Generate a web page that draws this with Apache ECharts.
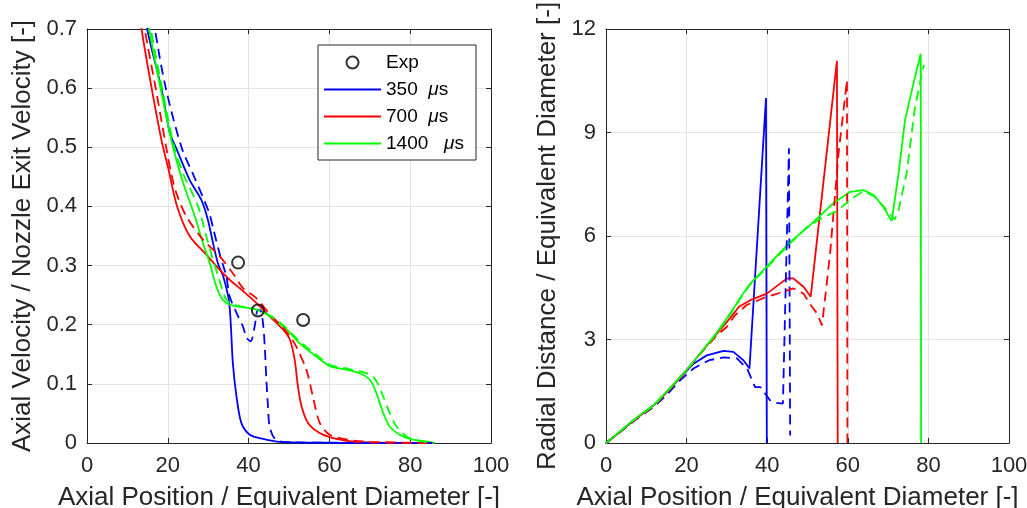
<!DOCTYPE html>
<html>
<head>
<meta charset="utf-8">
<script src="https://cdn.jsdelivr.net/npm/echarts@6/dist/echarts.min.js"></script>
<style>
html,body{margin:0;padding:0;background:#fff;}
#chart{width:1027px;height:508px;}
</style>
</head>
<body>
<div id="chart"></div>
<script>
// ---------- tick labels ----------
const xTickLabels = ['0', '20', '40', '60', '80', '100'];
const leftYTickLabels = ['0', '0.1', '0.2', '0.3', '0.4', '0.5', '0.6', '0.7'];
const rightYTickLabels = ['0', '3', '6', '9', '12'];

// ---------- legend names ----------
const legendNames = ['Exp', '350', '700', '1400'];

// ---------- left panel: axial velocity ----------
const expPoints = [[37.4, 0.305], [42.3, 0.224], [53.5, 0.208]];

const velBlueSolid = [[12.8, 0.80], [14.9, 0.70], [18.4, 0.60], [20.5, 0.524], [22.0, 0.50], [25.4, 0.445], [28.3, 0.411],
  [29.9, 0.378], [31.2, 0.338], [32.4, 0.304], [33.7, 0.282], [35.1, 0.242], [35.6, 0.20], [36.1, 0.135],
  [37.0, 0.079], [38.2, 0.034], [40.3, 0.014], [43.6, 0.007], [47.7, 0.002], [60, 0.0005], [86, 0]];
const velBlueDashed = [[14.6, 0.80], [16.8, 0.70], [19.5, 0.60], [23.4, 0.50], [26.4, 0.452], [30.2, 0.39], [31.4, 0.358],
  [32.8, 0.321], [33.7, 0.30], [34.5, 0.282], [35.3, 0.248], [37.0, 0.22], [38.6, 0.197], [39.5, 0.178],
  [40.5, 0.172], [41.5, 0.197], [42.3, 0.225], [43.0, 0.224], [43.6, 0.20], [44.0, 0.163], [44.4, 0.107],
  [44.8, 0.062], [45.2, 0.028], [46.5, 0.007], [48.5, 0.002], [60, 0.0005], [86, 0]];
const velRedSolid = [[11.5, 0.80], [13.5, 0.70], [16.0, 0.60], [18.5, 0.51], [20.2, 0.462], [22.3, 0.40], [25.4, 0.35],
  [29.6, 0.318], [32.8, 0.293], [35.3, 0.276], [38.6, 0.257], [41.9, 0.237], [45.2, 0.214], [48.5, 0.192],
  [50.2, 0.175], [51.4, 0.141], [52.2, 0.096], [53.1, 0.062], [54.7, 0.034], [57.6, 0.017], [61.7, 0.007],
  [66.7, 0.002], [86, 0]];
const velRedDashed = [[12.3, 0.80], [14.3, 0.70], [17.0, 0.60], [19.6, 0.50], [20.9, 0.454], [22.1, 0.423], [24.6, 0.383],
  [28.7, 0.344], [32.8, 0.316], [36.1, 0.287], [38.6, 0.262], [41.9, 0.245], [45.2, 0.218], [48.5, 0.195],
  [50.5, 0.178], [51.8, 0.163], [54.3, 0.124], [55.9, 0.079], [57.6, 0.034], [60.1, 0.014], [65.1, 0.005],
  [70, 0.002], [86, 0]];
const velGreenSolid = [[13.2, 0.80], [15.4, 0.70], [18.2, 0.60], [21.3, 0.50], [23.8, 0.44], [26.7, 0.383], [28.7, 0.338],
  [30.4, 0.304], [32.0, 0.265], [33.5, 0.243], [35.0, 0.235], [37.8, 0.230], [40.3, 0.228], [42.7, 0.224],
  [46.0, 0.211], [49.4, 0.192], [52.6, 0.169], [56.8, 0.146], [60.1, 0.130], [64.2, 0.124], [67.5, 0.118],
  [70.0, 0.107], [71.6, 0.085], [73.3, 0.051], [74.9, 0.028], [77.4, 0.014], [79.9, 0.007], [84.8, 0.002], [86, 0]];
const velGreenDashed = [[13.6, 0.80], [15.8, 0.70], [18.6, 0.60], [21.6, 0.50], [23.9, 0.454], [27.5, 0.40], [29.5, 0.35],
  [31.2, 0.31], [32.8, 0.275], [34.3, 0.245], [35.8, 0.235], [38.0, 0.231], [40.5, 0.228], [43.0, 0.223],
  [46.0, 0.212], [49.4, 0.194], [52.6, 0.172], [56.8, 0.149], [60.1, 0.132], [64.2, 0.126], [67.5, 0.121],
  [70.8, 0.113], [73.3, 0.079], [74.9, 0.051], [76.6, 0.028], [79.1, 0.011], [82, 0.004], [86, 0]];

// ---------- right panel: radial distance ----------
const radBlueSolid = [[0, 0], [3, 0.28], [6.85, 0.66], [11.8, 1.09], [15.1, 1.48], [18.5, 1.9], [21.7, 2.30], [25, 2.54],
  [29.2, 2.67], [31.6, 2.64], [34.1, 2.40], [35.6, 2.16], [39.7, 10.0], [39.9, 0]];
const radBlueDashed = [[0, 0], [3, 0.27], [6.85, 0.63], [11.8, 1.04], [15.1, 1.40], [18.4, 1.82], [21.7, 2.16], [25.6, 2.40],
  [29.2, 2.48], [32.5, 2.45], [35, 2.16], [37, 1.62], [38.3, 1.62], [40.7, 1.24], [42.3, 1.16], [43.9, 1.14],
  [45.4, 8.54], [45.7, 0.22]];
const radRedSolid = [[0, 0], [3, 0.28], [6.85, 0.66], [11.8, 1.09], [15.1, 1.48], [20.1, 2.13], [23.4, 2.60], [27.5, 3.17],
  [30.8, 3.62], [33, 3.95], [35.8, 4.14], [39.9, 4.33], [43.2, 4.62], [44.9, 4.77], [46.5, 4.77], [49, 4.53],
  [50.8, 4.24], [57.3, 11.08], [57.5, 0]];
const radRedDashed = [[0, 0], [3, 0.27], [6.85, 0.64], [11.8, 1.06], [15.1, 1.45], [20.1, 2.10], [23.4, 2.58], [27.5, 3.12],
  [30, 3.37], [32, 3.7], [34.9, 4.0], [39.9, 4.24], [44, 4.38], [46.5, 4.48], [49, 4.33], [51.1, 3.95],
  [52.4, 3.75], [53.6, 3.41], [55.6, 5.49], [57.7, 8.39], [59.8, 10.52], [59.9, 0]];
const radGreenSolid = [[0, 0], [3, 0.29], [6.85, 0.67], [11.8, 1.10], [15.1, 1.50], [20.1, 2.13], [23.4, 2.60], [27.5, 3.20],
  [30.8, 3.75], [33.3, 4.2], [35.8, 4.62], [39.9, 5.11], [45.3, 5.78], [50.7, 6.32], [56.4, 6.95], [60.6, 7.28],
  [63.9, 7.33], [66.4, 7.19], [68.8, 6.85], [70.9, 6.43], [72.6, 7.82], [74.2, 9.36], [76.3, 10.43],
  [78.1, 11.28], [78.2, 0]];
const radGreenDashed = [[0, 0], [3, 0.28], [6.85, 0.66], [11.8, 1.08], [15.1, 1.48], [20.1, 2.12], [23.4, 2.59], [27.5, 3.18],
  [30.8, 3.72], [33.3, 4.18], [35.8, 4.60], [39.9, 5.08], [45.3, 5.74], [49.8, 6.25], [54.1, 6.56], [57.3, 6.72],
  [61, 7.09], [63.9, 7.30], [66.4, 7.16], [69.7, 6.75], [71.6, 6.48], [72.4, 6.65], [74.6, 7.82], [76.7, 9.75],
  [78.4, 10.72], [78.9, 10.96]];

// ---------- styling ----------
const FONT = '"Liberation Sans", Arial, Helvetica, sans-serif';
const TXT = '#262626';
const AX = '#262626';
const GRIDC = '#e3e3e3';
const BLUE = '#0000ff', RED = '#ff0000', GREEN = '#00ff00';
const DASH = [10, 6];
const LW = 1.8;
const LINE_ICON = 'path://M0,0 L57,0 L57,2 L0,2 Z';

function labelFrom(arr, step) {
  return function (v) { const i = Math.round(v / step); return arr[i] !== undefined ? arr[i] : ''; };
}

function mainX(grid, name) {
  return {
    gridIndex: grid, type: 'value', min: 0, max: 100, interval: 20, position: 'bottom',
    axisLine: { show: true, onZero: false, lineStyle: { color: AX, width: 1 } },
    axisTick: { show: true, inside: true, length: 5, lineStyle: { color: AX, width: 1 } },
    axisLabel: { show: true, margin: 12, fontSize: 22, color: TXT, fontFamily: FONT, formatter: labelFrom(xTickLabels, 20) },
    splitLine: { show: true, lineStyle: { color: GRIDC, width: 1 } },
    name: name, nameLocation: 'middle', nameGap: 42,
    nameTextStyle: { fontSize: 26, color: TXT, fontFamily: FONT, padding: [0, 20, 0, 0] }
  };
}
function boxX(grid) {
  return {
    gridIndex: grid, type: 'value', min: 0, max: 100, interval: 20, position: 'top',
    axisLine: { show: true, onZero: false, lineStyle: { color: AX, width: 1 } },
    axisTick: { show: true, inside: true, length: 5, lineStyle: { color: AX, width: 1 } },
    axisLabel: { show: false }, splitLine: { show: false }
  };
}
function mainY(grid, max, step, labels, name, gap) {
  return {
    gridIndex: grid, type: 'value', min: 0, max: max, interval: step, position: 'left',
    axisLine: { show: true, onZero: false, lineStyle: { color: AX, width: 1 } },
    axisTick: { show: true, inside: true, length: 5, lineStyle: { color: AX, width: 1 } },
    axisLabel: { show: true, margin: 10, fontSize: 22, color: TXT, fontFamily: FONT, formatter: labelFrom(labels, step) },
    splitLine: { show: true, lineStyle: { color: GRIDC, width: 1 } },
    name: name, nameLocation: 'middle', nameGap: gap,
    nameTextStyle: { fontSize: 26, color: TXT, fontFamily: FONT }
  };
}
function boxY(grid, max, step) {
  return {
    gridIndex: grid, type: 'value', min: 0, max: max, interval: step, position: 'right',
    axisLine: { show: true, onZero: false, lineStyle: { color: AX, width: 1 } },
    axisTick: { show: true, inside: true, length: 5, lineStyle: { color: AX, width: 1 } },
    axisLabel: { show: false }, splitLine: { show: false }
  };
}
function line(name, data, color, dashed, xi, yi, smooth) {
  return {
    name: name, type: 'line', data: data, xAxisIndex: xi, yAxisIndex: yi,
    symbol: 'none', showSymbol: false, clip: true,
    smooth: smooth ? 0.3 : false,
    lineStyle: { color: color, width: LW, type: dashed ? DASH : 'solid' },
    itemStyle: { color: color },
    emphasis: { disabled: true }, animation: false, z: 3
  };
}

const option = {
  backgroundColor: '#ffffff',
  animation: false,
  textStyle: { fontFamily: FONT },
  grid: [
    { left: 87, top: 29, width: 404, height: 414, containLabel: false, outerBoundsMode: 'none' },
    { left: 606, top: 29, width: 403, height: 414, containLabel: false, outerBoundsMode: 'none' }
  ],
  xAxis: [
    mainX(0, 'Axial Position / Equivalent Diameter [-]'),
    boxX(0),
    mainX(1, 'Axial Position / Equivalent Diameter [-]'),
    boxX(1)
  ],
  yAxis: [
    mainY(0, 0.7, 0.1, leftYTickLabels, 'Axial Velocity / Nozzle Exit Velocity [-]', 51),
    boxY(0, 0.7, 0.1),
    mainY(1, 12, 3, rightYTickLabels, 'Radial Distance / Equivalent Diameter [-]', 45),
    boxY(1, 12, 3)
  ],
  legend: {
    show: true, orient: 'vertical', left: 318, top: 45,
    padding: [8, 12, 7, 6], itemGap: 8, itemWidth: 57, itemHeight: 12,
    backgroundColor: '#ffffff', borderColor: AX, borderWidth: 1, borderRadius: 0,
    selectedMode: false,
    data: legendNames.map(function (n) { return n === 'Exp' ? { name: n, icon: 'circle' } : { name: n, icon: LINE_ICON }; }),
    formatter: function (name) {
      if (name === 'Exp') return 'Exp';
      return name + (name.length > 3 ? '   ' : '  ') + '{mu|μ}s';
    },
    textStyle: {
      fontSize: 19, color: '#000', fontFamily: FONT, lineHeight: 18,
      rich: { mu: { fontSize: 19, fontStyle: 'italic', color: '#000', fontFamily: FONT, lineHeight: 18 } }
    }
  },
  series: [
    line('350', velBlueSolid, BLUE, false, 0, 0, true),
    line('700', velRedSolid, RED, false, 0, 0, true),
    line('1400', velGreenSolid, GREEN, false, 0, 0, true),
    line('350 dashed', velBlueDashed, BLUE, true, 0, 0, true),
    line('700 dashed', velRedDashed, RED, true, 0, 0, true),
    line('1400 dashed', velGreenDashed, GREEN, true, 0, 0, true),
    {
      name: 'Exp', type: 'scatter', data: expPoints, xAxisIndex: 0, yAxisIndex: 0,
      symbol: 'circle', symbolSize: 12,
      itemStyle: { color: 'rgba(255,255,255,0)', borderColor: '#000', borderWidth: 2 },
      emphasis: { disabled: true }, z: 5, animation: false
    },
    line('r350', radBlueSolid, BLUE, false, 2, 2, false),
    line('r700', radRedSolid, RED, false, 2, 2, false),
    line('r1400', radGreenSolid, GREEN, false, 2, 2, false),
    line('r350 dashed', radBlueDashed, BLUE, true, 2, 2, false),
    line('r700 dashed', radRedDashed, RED, true, 2, 2, false),
    line('r1400 dashed', radGreenDashed, GREEN, true, 2, 2, false)
  ]
};

const chart = echarts.init(document.getElementById('chart'), null, { renderer: 'canvas' });
chart.setOption(option);
</script>
</body>
</html>
